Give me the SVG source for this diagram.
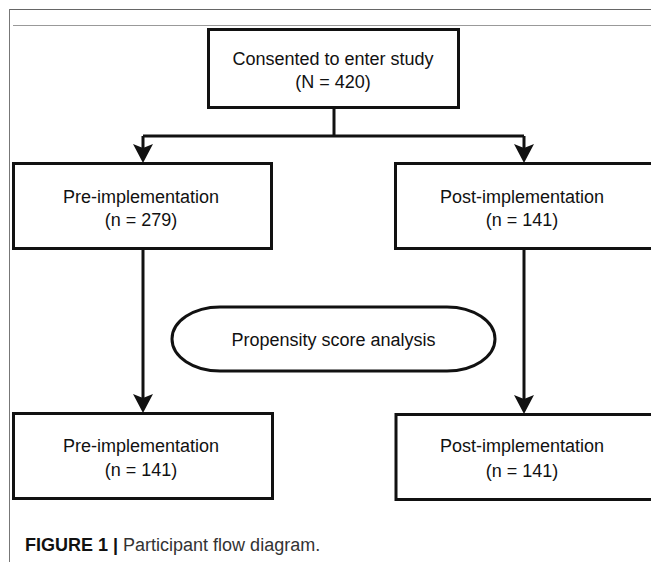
<svg xmlns="http://www.w3.org/2000/svg" width="651" height="562" viewBox="0 0 651 562">
<style>
.box{fill:#fff;stroke:#111;stroke-width:3}
.lbl{font-family:"Liberation Sans",Arial,sans-serif;font-size:18px;fill:#111;text-anchor:middle}
.con{fill:none;stroke:#111;stroke-width:3}
.cap{font-family:"Liberation Sans",Arial,sans-serif;font-size:18px;fill:#333}
</style>
<defs>
<marker id="arr" viewBox="0 0 19 20" refX="12" refY="10" markerWidth="19" markerHeight="20" markerUnits="userSpaceOnUse" orient="auto">
<path d="M0,0 L19,10 L0,20 L4,10 Z" fill="#111"/>
</marker>
</defs>
<rect width="651" height="562" fill="#fff"/>
<g id="frame">
<line x1="9" y1="9.5" x2="651" y2="9.5" stroke="#666" stroke-width="1"/>
<line x1="9.5" y1="9" x2="9.5" y2="562" stroke="#777" stroke-width="1"/>
<line x1="13" y1="25.5" x2="651" y2="25.5" stroke="#999" stroke-width="1"/>
</g>
<g id="connectors">
<path class="con" d="M334,108 V136"/>
<path class="con" d="M143,136 H524"/>
<path class="con" d="M143,136 V156" marker-end="url(#arr)"/>
<path class="con" d="M524,136 V156" marker-end="url(#arr)"/>
<path class="con" d="M143,248 V406" marker-end="url(#arr)"/>
<path class="con" d="M524,248 V407" marker-end="url(#arr)"/>
</g>
<g id="n-consented">
<rect class="box" x="208.5" y="29.5" width="250" height="78"/>
<text class="lbl" x="333" y="65">Consented to enter study</text>
<text class="lbl" x="333" y="88">(N = 420)</text>
</g>
<g id="n-pre1">
<rect class="box" x="13.5" y="163.5" width="258" height="85"/>
<text class="lbl" x="141" y="203">Pre-implementation</text>
<text class="lbl" x="141" y="226">(n = 279)</text>
</g>
<g id="n-post1">
<rect class="box" x="395.5" y="163.5" width="258" height="85"/>
<text class="lbl" x="522" y="203">Post-implementation</text>
<text class="lbl" x="522" y="226">(n = 141)</text>
</g>
<g id="n-psa">
<path class="box" d="M220,307 H447 A48,32 0 0 1 447,371 H220 A48,32 0 0 1 220,307 Z"/>
<text class="lbl" x="333.5" y="346">Propensity score analysis</text>
</g>
<g id="n-pre2">
<rect class="box" x="13.5" y="413.5" width="259" height="85"/>
<text class="lbl" x="141" y="452">Pre-implementation</text>
<text class="lbl" x="141" y="476">(n = 141)</text>
</g>
<g id="n-post2">
<rect class="box" x="396" y="414.5" width="258" height="85"/>
<text class="lbl" x="522" y="452">Post-implementation</text>
<text class="lbl" x="522" y="477">(n = 141)</text>
</g>
<g id="caption">
<text class="cap" x="25" y="551"><tspan font-weight="bold" fill="#111">FIGURE 1 |</tspan> Participant flow diagram.</text>
</g>
</svg>
